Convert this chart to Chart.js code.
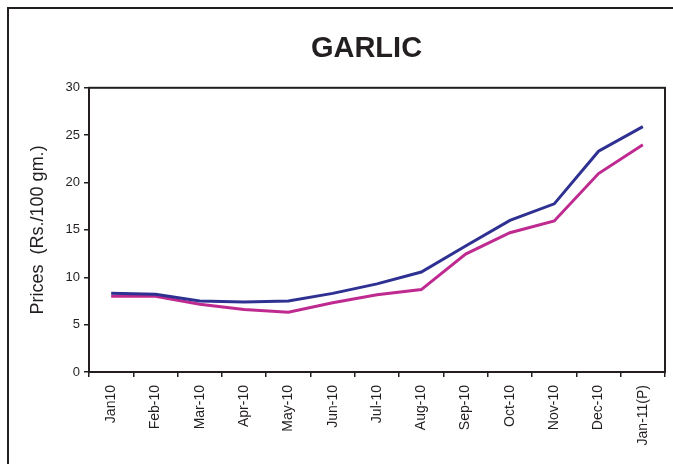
<!DOCTYPE html>
<html lang="en">
<head>
  <meta charset="UTF-8" />
  <title>GARLIC</title>
  <script src="https://cdn.jsdelivr.net/npm/chart.js"></script>
  <style>
    body { margin: 0; padding: 0; background: #fff; }
    #wrap { width: 673px; height: 464px; position: relative; }
  </style>
</head>
<body>
  <div id="wrap"><canvas id="garlicChart"></canvas></div>

  <script>
    const months = ['Jan10', 'Feb-10', 'Mar-10', 'Apr-10', 'May-10', 'Jun-10', 'Jul-10',
                    'Aug-10', 'Sep-10', 'Oct-10', 'Nov-10', 'Dec-10', 'Jan-11(P)'];
    const blueSeries = [8.3, 8.2, 7.5, 7.4, 7.5, 8.3, 9.3, 10.55, 13.3, 16.0, 17.75, 23.3, 25.9];
    const pinkSeries = [8.0, 8.0, 7.15, 6.6, 6.3, 7.3, 8.15, 8.7, 12.45, 14.7, 15.95, 20.95, 24.0];
    const yTicks = [0, 5, 10, 15, 20, 25, 30];

    const ink = '#231f20';
    Chart.defaults.font.family = "'Liberation Sans', Arial, sans-serif";
    Chart.defaults.color = ink;

    // outer frame + box around plot, and nudge the title over the plot
    const framePlugin = {
      id: 'frame',
      afterLayout(chart) {
        const tb = chart.titleBlock;
        if (tb) { tb.left += 24; tb.right += 24; }
      },
      beforeDraw(chart) {
        const ctx = chart.ctx;
        ctx.save();
        ctx.fillStyle = '#fff';
        ctx.fillRect(0, 0, chart.width, chart.height);
        ctx.strokeStyle = ink;
        ctx.lineWidth = 2;
        ctx.strokeRect(8, 8, 700, 500);
        ctx.restore();
      },
      afterDatasetsDraw(chart) {
        const a = chart.chartArea, ctx = chart.ctx;
        ctx.save();
        ctx.strokeStyle = ink;
        ctx.lineWidth = 2;
        ctx.strokeRect(a.left, a.top, a.right - a.left, a.bottom - a.top);
        ctx.restore();
      }
    };

    window.onload = () => {
      const ctx = document.getElementById('garlicChart').getContext('2d');
      new Chart(ctx, {
        type: 'line',
        data: {
          labels: months,
          datasets: [
            {
              label: 'Series 1',
              data: blueSeries,
              borderColor: '#2e3192',
              borderWidth: 3,
              pointRadius: 0,
              tension: 0
            },
            {
              label: 'Series 2',
              data: pinkSeries,
              borderColor: '#be2a90',
              borderWidth: 3,
              pointRadius: 0,
              tension: 0
            }
          ]
        },
        options: {
          responsive: true,
          maintainAspectRatio: false,
          animation: false,
          layout: { padding: { left: 20, right: 8, top: 10, bottom: 0 } },
          plugins: {
            legend: { display: false },
            tooltip: { enabled: false },
            title: {
              display: true,
              text: 'GARLIC',
              color: ink,
              font: { size: 29, weight: 'bold' },
              padding: { top: 22, bottom: 21 }
            }
          },
          scales: {
            x: {
              offset: true,
              grid: { offset: true, drawOnChartArea: false, tickLength: 5, color: ink, lineWidth: 1.5 },
              border: { color: ink, width: 2 },
              ticks: { minRotation: 90, maxRotation: 90, autoSkip: false, padding: 8, font: { size: 14 }, color: ink },
              afterFit(scale) { scale.height = 92; }
            },
            y: {
              min: 0,
              max: 30,
              afterBuildTicks(scale) { scale.ticks = yTicks.map(v => ({ value: v })); },
              grid: { drawOnChartArea: false, tickLength: 5, color: ink, lineWidth: 1.5 },
              border: { color: ink, width: 2 },
              ticks: { padding: 4, font: { size: 13 }, color: ink },
              title: {
                display: true,
                text: 'Prices  (Rs./100 gm.)',
                color: ink,
                font: { size: 18 },
                padding: { top: 7, bottom: 0 }
              },
              afterFit(scale) { scale.width = 69; }
            }
          }
        },
        plugins: [framePlugin]
      });
    };
  </script>
</body>
</html>
